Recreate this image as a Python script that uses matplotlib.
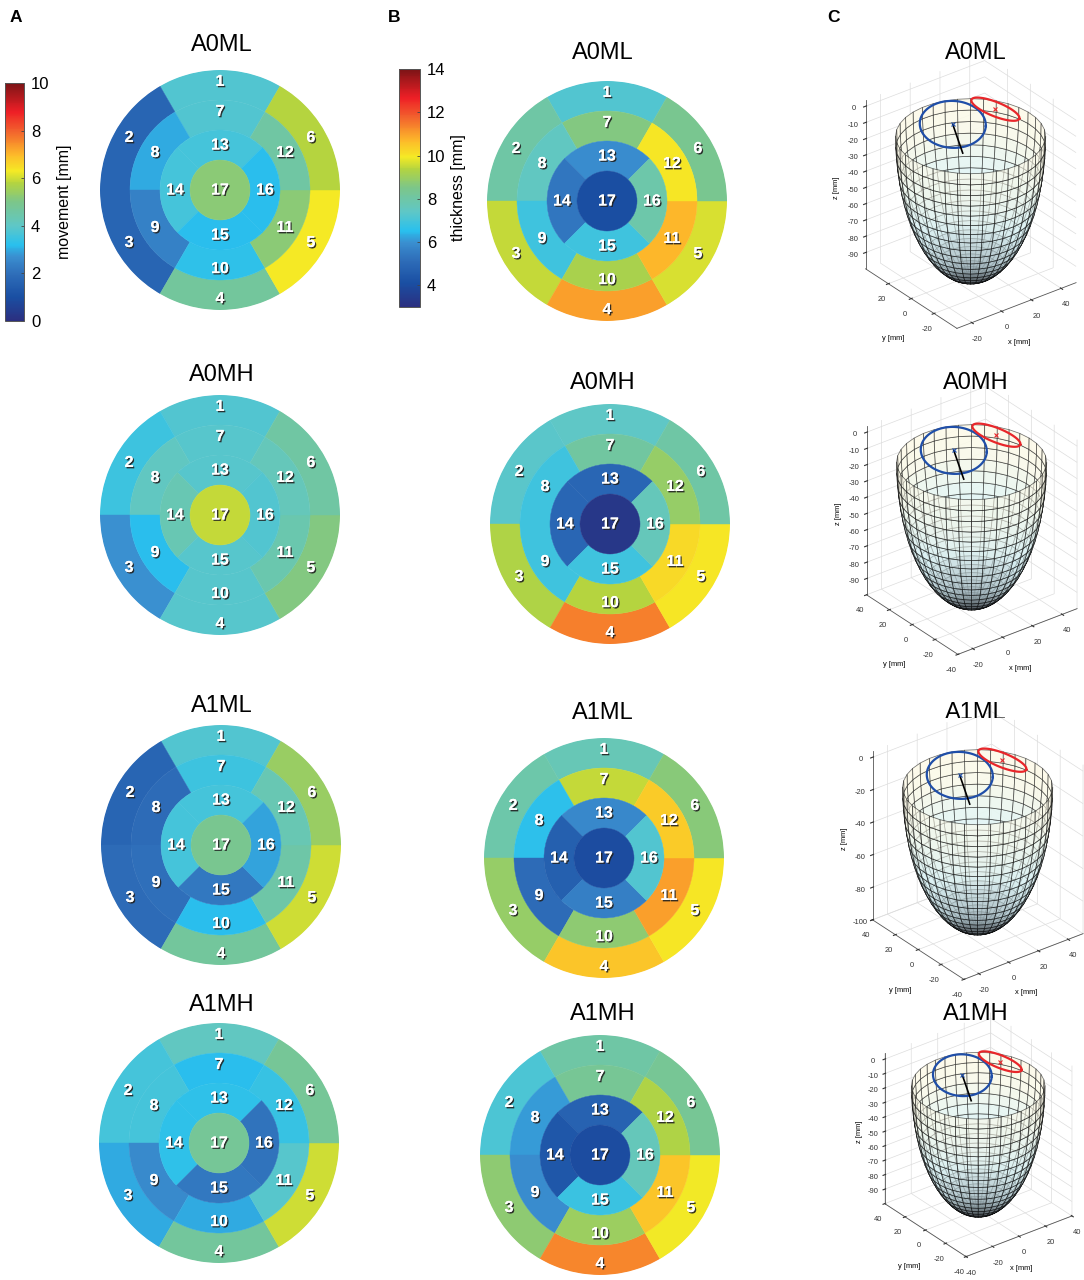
import numpy as np
import matplotlib
matplotlib.use('Agg')
from matplotlib import pyplot as plt
from matplotlib import patheffects as pe
from matplotlib.cm import ScalarMappable
from matplotlib.colors import LinearSegmentedColormap, Normalize
from matplotlib.transforms import Bbox

W, H = 1084, 1280
plt.rcParams['font.family'] = ['Liberation Sans', 'DejaVu Sans']
plt.rcParams['axes.unicode_minus'] = False

# segment values 1..17
mov_a0ml = [3.8, 1.7, 1.7, 4.7, 6.3, 5.8, 3.8, 3.0, 2.4, 3.3, 5.2, 4.6, 3.6, 3.6, 3.2, 3.2, 5.2]
mov_a0mh = [3.8, 3.5, 2.7, 3.9, 5.1, 4.6, 3.9, 4.1, 3.2, 3.9, 4.4, 4.2, 3.9, 4.3, 3.9, 3.8, 5.9]
mov_a1ml = [3.8, 1.7, 1.9, 4.7, 6.0, 5.4, 3.5, 1.9, 2.0, 3.2, 4.5, 4.3, 3.6, 3.6, 2.2, 2.9, 4.9]
mov_a1mh = [4.1, 3.6, 3.0, 4.7, 6.0, 4.8, 3.2, 3.6, 2.6, 3.0, 3.9, 3.4, 3.3, 3.3, 2.2, 2.1, 4.8]
thk_a0ml = [7.2, 8.0, 9.5, 11.0, 9.7, 8.4, 8.6, 7.5, 6.9, 9.2, 10.7, 10.0, 5.9, 5.4, 6.9, 7.9, 4.1]
thk_a0mh = [7.4, 7.3, 9.3, 11.4, 10.0, 8.0, 8.1, 6.9, 6.9, 9.4, 10.2, 8.9, 4.9, 4.9, 6.9, 7.6, 3.3]
thk_a1ml = [7.7, 7.9, 8.9, 10.5, 10.0, 8.7, 9.5, 6.6, 5.1, 8.8, 11.0, 10.4, 5.8, 4.7, 5.6, 7.2, 4.0]
thk_a1mh = [8.0, 7.1, 8.8, 11.3, 9.9, 8.3, 8.3, 6.1, 5.9, 9.0, 10.5, 9.3, 4.8, 4.4, 6.8, 7.6, 4.0]

titles = ['A0ML', 'A0MH', 'A1ML', 'A1MH']
mov_panels = [mov_a0ml, mov_a0mh, mov_a1ml, mov_a1mh]
thk_panels = [thk_a0ml, thk_a0mh, thk_a1ml, thk_a1mh]

# bullseye placement in pixels
mov_xy = [(220, 190), (220, 515), (221, 845), (219, 1143)]
thk_xy = [(607, 201), (610, 524), (604, 858), (600, 1155)]
mov_title_y = [45, 375, 706, 1005]
thk_title_y = [53, 383, 713, 1014]

# colours
cmap = LinearSegmentedColormap.from_list('bar', [
    (0.00, '#2b2f80'), (0.10, '#1a4fa3'), (0.20, '#2f6fba'), (0.27, '#3a8fd0'),
    (0.32, '#29c0ee'), (0.40, '#5fc7c6'), (0.50, '#7cc68a'), (0.58, '#b4d43f'),
    (0.63, '#f5ea25'), (0.70, '#fdb92a'), (0.80, '#f2602d'), (0.88, '#ee1f26'),
    (1.00, '#7c1416')])
mov_norm = Normalize(0, 10)
thk_norm = Normalize(3, 14)

# 3D panels
depth = [88, 88, 88, 88]
xlims = [(-30, 50), (-30, 50), (-30, 50), (-40, 40)]
zlims = [(-100, 4), (-100, 4), (-100, 4), (-100, 4)]
zticks = [np.arange(-90, 1, 10), np.arange(-90, 1, 10), np.arange(-100, 1, 20), np.arange(-90, 1, 10)]
yticks = [[-20, 0, 20], [-40, -20, 0, 20, 40], [-40, -20, 0, 20, 40], [-40, -20, 0, 20, 40]]
xticks = [[-20, 0, 20, 40], [-20, 0, 20, 40], [-20, 0, 20, 40], [-40, -20, 0, 20, 40]]
box_xy = [(967, 195), (968, 521), (974, 846), (975, 1138)]
box_size = [280, 280, 280, 249]
blue_ring = (-9.5, 6.3, 17.6, 12.5)
red_ring = (13.2, 14.4, 13.7, 3.8)
stem_end = (-4.2, -9.0)

wall = LinearSegmentedColormap.from_list('wall', [
    (0.0, '#2a2a38'), (0.05, '#7a8690'), (0.2, '#cfeaf0'), (0.5, '#e2f5f4'), (0.75, '#f8f9ea'), (1.0, '#fffbe8')])


def px_rect(cx, cy, w, h):
    return [(cx - w / 2) / W, 1 - (cy + h / 2) / H, w / W, h / H]


def bullseye(fig, cx, cy, vals, norm):
    ax = fig.add_axes(px_rect(cx, cy, 240, 240), projection='polar')
    rings = [(3, np.radians(90 + 60 * np.arange(6)), np.pi / 3, vals[:6]),
             (2, np.radians(90 + 60 * np.arange(6)), np.pi / 3, vals[6:12]),
             (1, np.radians(90 + 90 * np.arange(4)), np.pi / 2, vals[12:16]),
             (0, np.array([0.0]), 2 * np.pi, vals[16:])]
    num = 1
    for bottom, th, width, v in rings:
        c = cmap(norm(v))
        ax.bar(th, 1, width=width, bottom=bottom, color=c, edgecolor=c, linewidth=0.3)
        for t in th:
            r = bottom + 0.5 if bottom else 0
            # top and bottom numbers sit a little further out
            if bottom >= 2 and abs(np.sin(t)) > 0.99:
                r += 0.12
            ax.text(t, r, str(num), color='white', fontsize=11.5, fontweight='bold',
                    ha='center', va='center',
                    path_effects=[pe.withSimplePatchShadow(offset=(1, -1), shadow_rgbFace='#222222', alpha=0.9), pe.Normal()])
            num += 1
    ax.set_ylim(0, 4)
    ax.set_axis_off()


def colorbar(fig, x0, x1, y0, y1, norm, ticks, label, label_x):
    cax = fig.add_axes([x0 / W, 1 - y1 / H, (x1 - x0) / W, (y1 - y0) / H])
    cb = fig.colorbar(ScalarMappable(norm=norm, cmap=cmap), cax=cax)
    cb.set_ticks(ticks)
    cb.ax.tick_params(labelsize=12, length=2, width=0.6, color='#444444', direction='in', pad=5)
    cb.outline.set_edgecolor('#555555')
    cb.outline.set_linewidth(0.7)
    fig.text(label_x / W, 1 - (y0 + y1) / 2 / H, label, rotation=90, fontsize=11.5,
             ha='center', va='center')


def shell(fig, i):
    cx, cy = box_xy[i]
    size = box_size[i]
    k = size / 280
    ax = fig.add_axes(px_rect(cx, cy, size, size), projection='3d', computed_zorder=False)
    ax.patch.set_alpha(0)
    az, el = -127.5, 30
    ax.view_init(elev=el, azim=az)
    ax.set_proj_type('ortho')
    xlo, xhi = xlims[i]
    xc, yc, rad = (xlo + xhi) / 2 - 15, -19.4, 40
    v = np.radians(np.linspace(0, 90, 21))
    # far wall first, near wall over it
    for start, face_a, edge_a, zo in [(az + 90, 0.9, 0.55, 2), (az - 90, 0.6, 0.6, 3)]:
        u = np.radians(np.arange(start, start + 181, 10))
        x = xc + rad * np.outer(np.cos(u), np.sin(v))
        y = yc + rad * np.outer(np.sin(u), np.sin(v))
        z = -depth[i] * np.outer(np.ones_like(u), np.cos(v))
        fc = wall((z + depth[i]) / depth[i])
        fc[..., 3] = face_a
        ax.plot_surface(x, y, z, facecolors=fc, edgecolor=(0, 0, 0, edge_a), linewidth=0.55,
                        rstride=1, cstride=1, shade=False, zorder=zo)

    a, e = np.radians(az), np.radians(el)
    right = np.array([-np.sin(a), np.cos(a), 0])
    up = np.array([-np.sin(e) * np.cos(a), -np.sin(e) * np.sin(a), np.cos(e)])
    mid = np.array([xc, yc, 0.0])
    t = np.linspace(0, 2 * np.pi, 100)
    for (ox, oy, ra, rb), col, tilt in [(blue_ring, '#1f4ea8', -0.05), (red_ring, '#e8262a', -0.38)]:
        c = mid + ox * right + oy * up
        e1 = np.cos(tilt) * right + np.sin(tilt) * up
        e2 = -np.sin(tilt) * right + np.cos(tilt) * up
        p = c + np.outer(ra * np.cos(t), e1) + np.outer(rb * np.sin(t), e2)
        ax.plot(p[:, 0], p[:, 1], p[:, 2], color=col, lw=1.6, zorder=5)
        ax.plot([c[0]], [c[1]], [c[2]], marker='x', ms=3, mew=0.8, color=col, zorder=6)
    b = mid + blue_ring[0] * right + blue_ring[1] * up
    s = mid + stem_end[0] * right + stem_end[1] * up
    ax.plot([b[0], s[0]], [b[1], s[1]], [b[2], s[2]], color='black', lw=1.2, zorder=5)

    ax.set_xlim(*xlims[i])
    ax.set_ylim(-40, 40)
    ax.set_zlim(*zlims[i])
    ax.set_box_aspect((80, 80, zlims[i][1] - zlims[i][0]), zoom=1.0)
    ax.set_xticks(xticks[i])
    ax.set_yticks(yticks[i])
    ax.set_zticks(zticks[i])
    ax.tick_params(labelsize=5.4, pad=-2, colors='#333333', length=2)
    for axis in (ax.xaxis, ax.yaxis, ax.zaxis):
        axis.set_pane_color((1, 1, 1, 0))
        axis.line.set_color('#555555')
        axis.line.set_linewidth(0.6)
        axis._axinfo['grid']['color'] = '#dddddd'
        axis._axinfo['grid']['linewidth'] = 0.5
    fig.text((cx + 52 * k) / W, 1 - (cy + 147 * k) / H, 'x [mm]', fontsize=5.4, ha='center', va='center')
    fig.text((cx - 74 * k) / W, 1 - (cy + 144 * k) / H, 'y [mm]', fontsize=5.4, ha='center', va='center')
    fig.text((cx - 130 * k) / W, 1 - (cy - 7 * k) / H, 'z [mm]', fontsize=5.4, rotation=90, ha='center', va='center')


fig = plt.figure(figsize=(W / 100, H / 100), dpi=100, facecolor='white')

for i, name in enumerate(titles):
    bullseye(fig, *mov_xy[i], mov_panels[i], mov_norm)
    bullseye(fig, *thk_xy[i], thk_panels[i], thk_norm)
    shell(fig, i)
    fig.text(222 / W, 1 - mov_title_y[i] / H, name, fontsize=17, ha='center', va='center')
    fig.text(603 / W, 1 - thk_title_y[i] / H, name, fontsize=17, ha='center', va='center')
    t = fig.text(976 / W, 1 - thk_title_y[i] / H, name, fontsize=17, ha='center', va='center')
    if i == 2:
        # the foot of this title is cut off in the source
        t.set_clip_box(Bbox([[0, H - 717.5], [W, H]]))
        t.set_clip_on(True)

colorbar(fig, 5, 24, 83, 321, mov_norm, [0, 2, 4, 6, 8, 10], 'movement [mm]', 64)
colorbar(fig, 399, 420, 69, 307, thk_norm, [4, 6, 8, 10, 12, 14], 'thickness [mm]', 459)

for letter, x in [('A', 16), ('B', 394), ('C', 834)]:
    fig.text(x / W, 1 - 17 / H, letter, fontsize=12.5, fontweight='bold', ha='center', va='center')

fig.savefig('out.png', dpi=100)
